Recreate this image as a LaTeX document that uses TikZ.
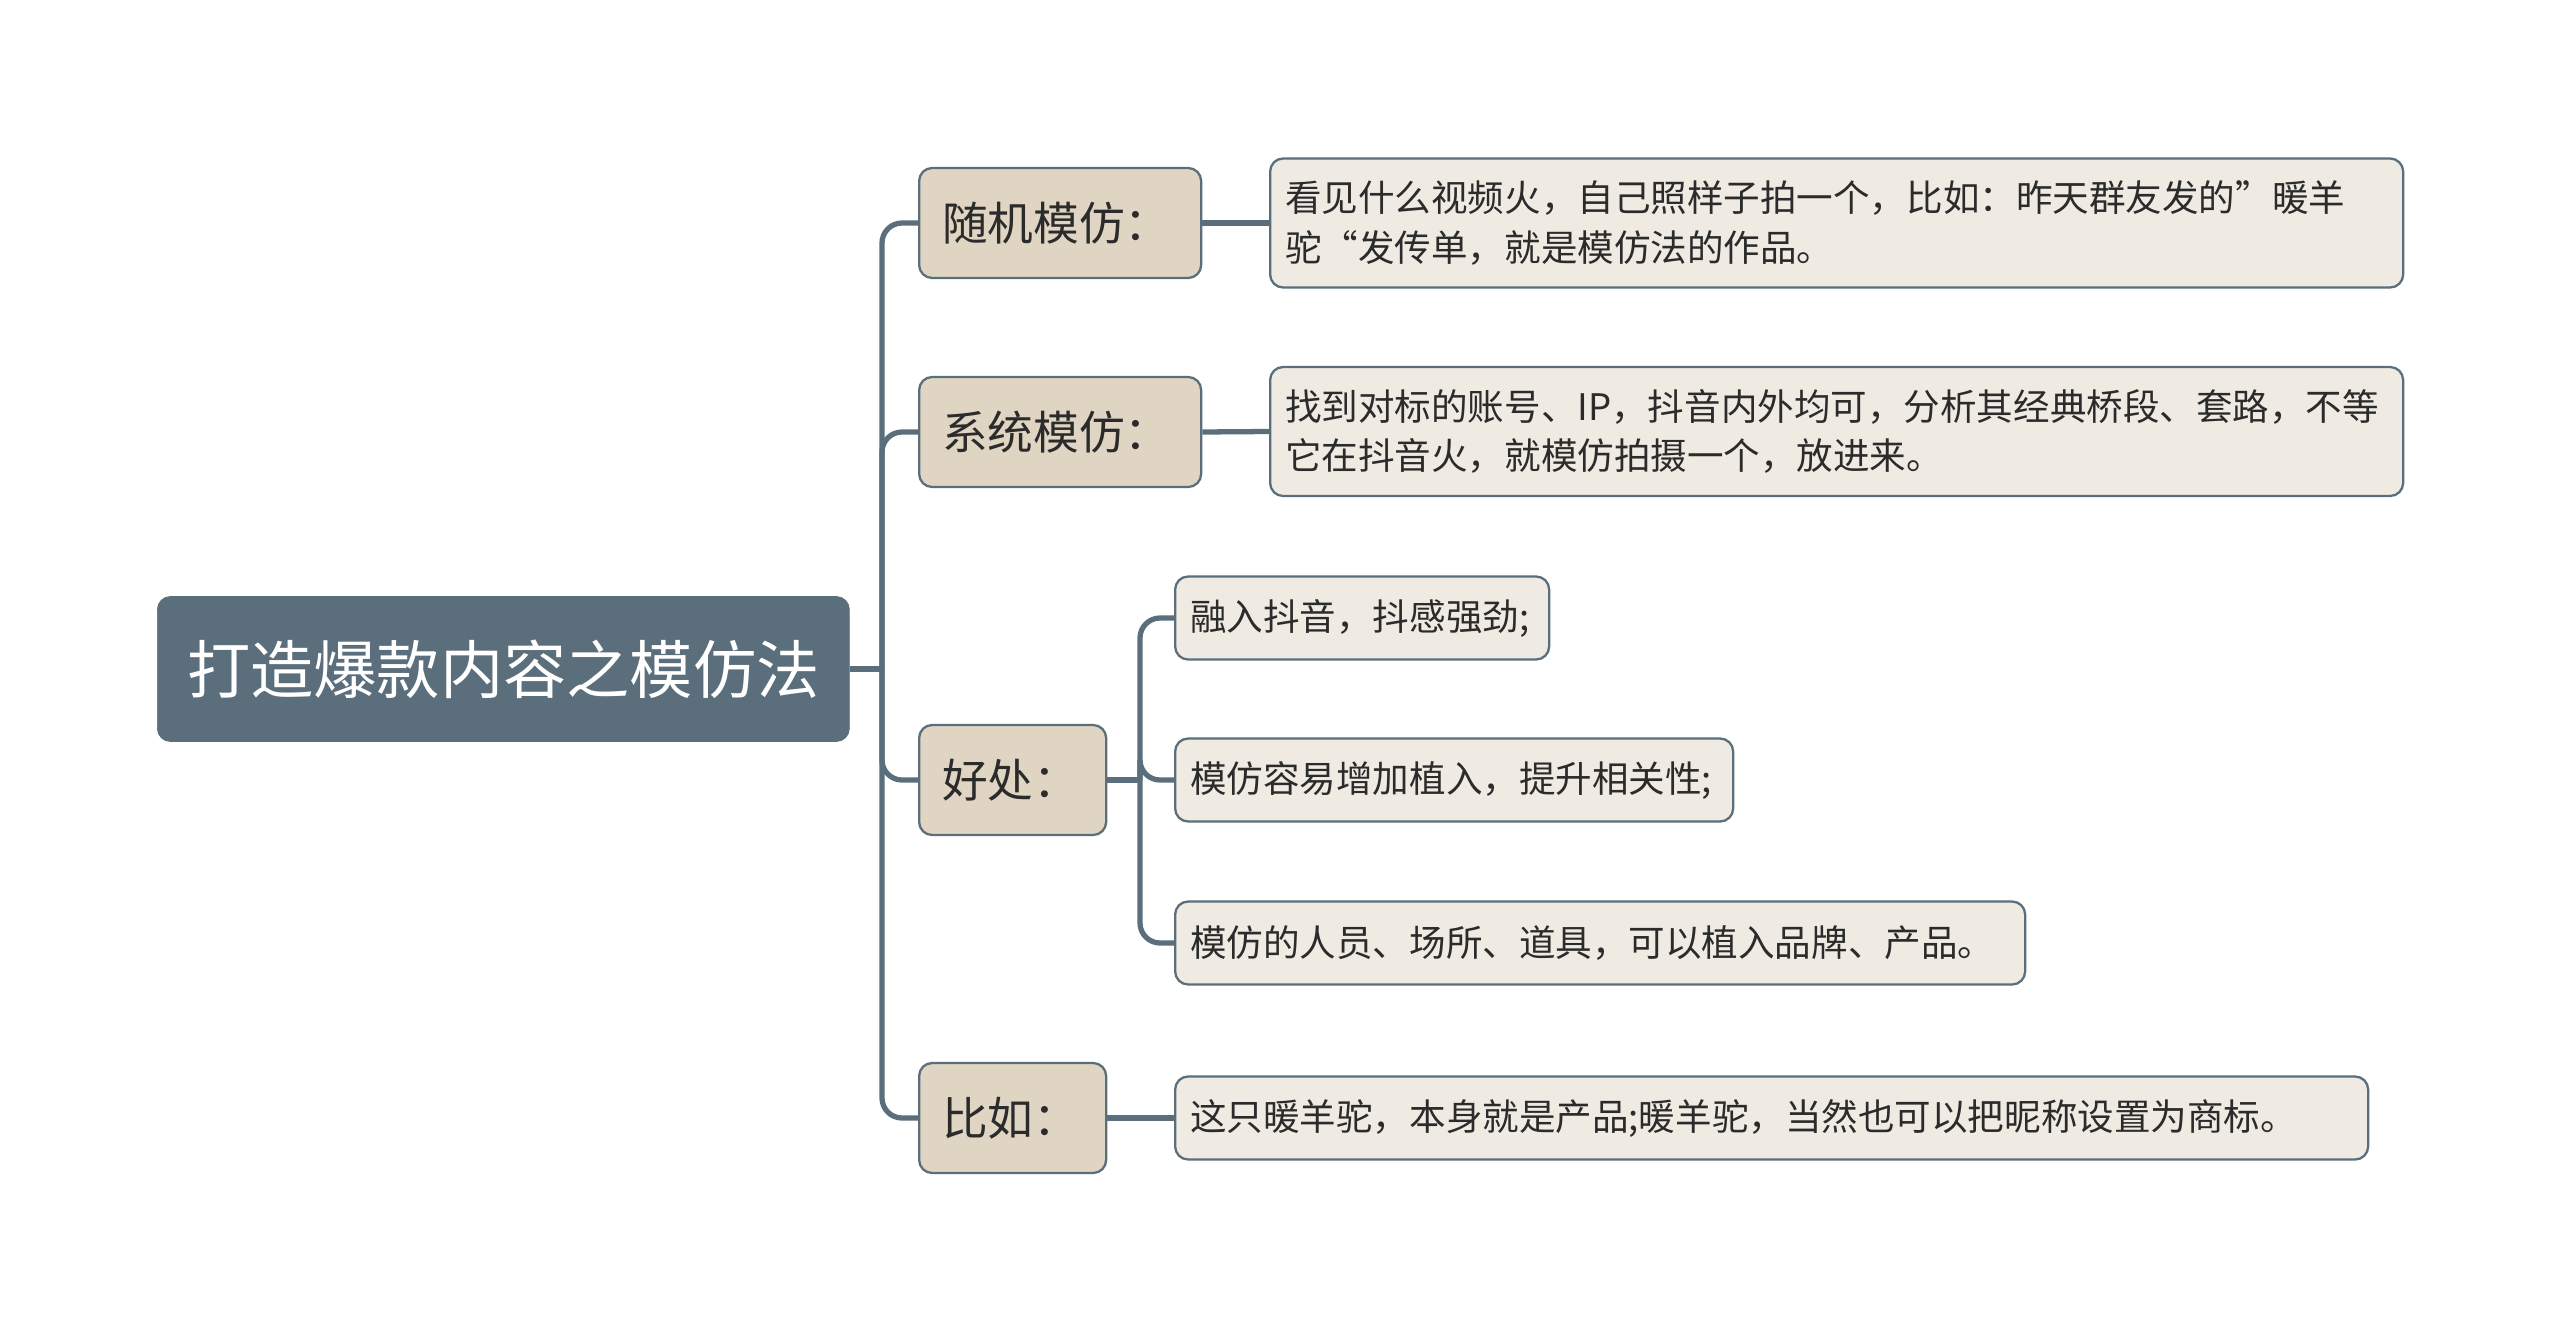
\documentclass[tikz,border=0pt]{standalone}
\usepackage{fontspec}
\newfontfamily\cjk{Noto Sans CJK SC}
\usetikzlibrary{positioning}
\definecolor{slate}{HTML}{5A6E7B}
\definecolor{sand}{HTML}{E0D5C3}
\definecolor{paper}{HTML}{EFEBE3}
\definecolor{ink}{HTML}{2B2B2B}
\tikzset
{
  rootnode/.style  = {rectangle, rounded corners=0.26cm, fill=slate, draw=slate, text=white, minimum width=13.84cm, minimum height=2.9cm, font=\cjk\fontsize{36pt}{43pt}\selectfont},
  topicnode/.style = {rectangle, rounded corners=0.26cm, fill=sand, draw=slate, line width=1.3pt, text=ink, minimum height=2.2cm, inner xsep=0.46cm, align=left, font=\cjk\fontsize{26pt}{32pt}\selectfont},
  leafnode/.style  = {rectangle, rounded corners=0.26cm, fill=paper, draw=slate, line width=1.3pt, text=ink, minimum height=1.66cm, inner xsep=0.3cm, align=left, font=\cjk\fontsize{20.8pt}{28pt}\selectfont},
  link/.style      = {draw=slate, line width=3pt, rounded corners=0.4cm}
}
\begin{document}
\begin{tikzpicture}
  \useasboundingbox (0,0) rectangle (51.2,-26.62);
  % main topic
  \node [rootnode, anchor=west] (root) at (3.14,-13.38) {打造爆款内容之模仿法};
  % branches
  \node [topicnode, anchor=west, text width=4.72cm] (random) at (18.36,-4.46) {随机模仿：};
  \node [topicnode, anchor=west, text width=4.72cm] (system) at (18.36,-8.64) {系统模仿：};
  \node [topicnode, anchor=west, text width=2.82cm] (benefit) at (18.36,-15.6) {好处：};
  \node [topicnode, anchor=west, text width=2.82cm] (example) at (18.36,-22.36) {比如：};
  % details
  \node [leafnode, anchor=west, text width=22.06cm, minimum height=2.58cm] (random1) at (25.38,-4.46)
    {看见什么视频火，自己照样子拍一个，比如：昨天群友发的”暖羊\\驼“发传单，就是模仿法的作品。};
  \node [leafnode, anchor=west, text width=22.06cm, minimum height=2.58cm] (system1) at (25.38,-8.63)
    {找到对标的账号、IP，抖音内外均可，分析其经典桥段、套路，不等\\它在抖音火，就模仿拍摄一个，放进来。};
  \node [leafnode, anchor=west, text width=6.88cm] (benefit1) at (23.48,-12.36) {融入抖音，抖感强劲;};
  \node [leafnode, anchor=west, text width=10.56cm] (benefit2) at (23.48,-15.6) {模仿容易增加植入，提升相关性;};
  \node [leafnode, anchor=west, text width=16.4cm] (benefit3) at (23.48,-18.86) {模仿的人员、场所、道具，可以植入品牌、产品。};
  \node [leafnode, anchor=west, text width=23.26cm] (example1) at (23.48,-22.36) {这只暖羊驼，本身就是产品;暖羊驼，当然也可以把昵称设置为商标。};
  % connectors
  \coordinate (spine) at (17.64,-13.38);
  \coordinate (subspine) at (22.8,-15.6);
  \draw [link] (root.east) -- (spine);
  \foreach \n in {random,system,benefit,example}
    \draw [link] (spine) |- (\n.west);
  \draw [link] (random.east) -- (random1.west);
  \draw [link] (system.east) -- (system1.west);
  \draw [link] (example.east) -- (example1.west);
  \draw [link] (benefit.east) -- (subspine);
  \foreach \n in {benefit1,benefit2,benefit3}
    \draw [link] (subspine) |- (\n.west);
\end{tikzpicture}
\end{document}
